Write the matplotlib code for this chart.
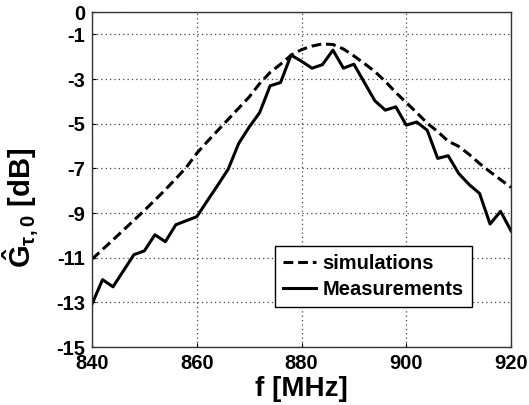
import matplotlib
matplotlib.use("Agg")
import matplotlib.pyplot as plt
import numpy as np

# frequency grid (MHz) and curves
freq_mhz = np.arange(840, 921, 2)

sim_db = [
    -11.06, -10.63, -10.20, -9.76, -9.32, -8.88, -8.42, -7.95, -7.46, -6.95,
    -6.32, -5.80, -5.30, -4.80, -4.30, -3.80, -3.20, -2.70, -2.33, -1.93,
    -1.68, -1.52, -1.42, -1.45, -1.65, -1.96, -2.30, -2.66, -3.10, -3.60,
    -4.05, -4.50, -4.97, -5.35, -5.78, -6.01, -6.37, -6.78, -7.15, -7.50,
    -7.85,
]

meas_db = [
    -13.07, -11.98, -12.30, -11.58, -10.86, -10.69, -9.97, -10.28, -9.52, -9.34,
    -9.16, -8.45, -7.75, -7.03, -5.88, -5.15, -4.50, -3.30, -3.15, -1.92,
    -2.20, -2.51, -2.35, -1.70, -2.51, -2.33, -3.15, -3.97, -4.39, -4.24,
    -5.06, -4.92, -5.29, -6.55, -6.43, -7.22, -7.72, -8.12, -9.49, -8.92,
    -9.79,
]

x_ticks = [840, 860, 880, 900, 920]
y_ticks = [0, -1, -3, -5, -7, -9, -11, -13, -15]

plt.rcParams["font.family"] = ["Liberation Sans", "DejaVu Sans"]
plt.rcParams["font.weight"] = "bold"
plt.rcParams["axes.unicode_minus"] = False
plt.rcParams["mathtext.fontset"] = "custom"
plt.rcParams["mathtext.rm"] = "Liberation Sans:bold"
plt.rcParams["mathtext.it"] = "Liberation Sans:bold"
plt.rcParams["mathtext.bf"] = "Liberation Sans:bold"
plt.rcParams["mathtext.default"] = "regular"

fig = plt.figure(figsize=(5.29, 4.05), dpi=100)
ax = fig.add_axes([0.174, 0.143, 0.792, 0.827])

ax.plot(freq_mhz, sim_db, color="black", linewidth=2.2,
        linestyle=(0, (3.2, 1.6)), label="simulations")
ax.plot(freq_mhz, meas_db, color="black", linewidth=2.2,
        label="Measurements")

ax.set_xlim(840, 920)
ax.set_ylim(-15, 0)
ax.set_xticks(x_ticks)
ax.set_yticks(y_ticks)
ax.tick_params(axis="both", labelsize=14.5, direction="in", length=3,
               pad=5, width=0.8)
for lab in ax.get_xticklabels() + ax.get_yticklabels():
    lab.set_fontweight("bold")

ax.grid(True, color="#444444", linestyle=(0, (1, 2.5)), linewidth=0.9)
for sp in ax.spines.values():
    sp.set_linewidth(1.0)
    sp.set_color("#333333")

ax.set_xlabel("f [MHz]", fontsize=20, fontweight="bold", labelpad=2)
ax.set_ylabel(r"$\hat{G}_{\tau,0}$ [dB]", fontsize=21, fontweight="bold")
ax.yaxis.set_label_coords(-0.125, 0.415)

leg = ax.legend(loc="lower left", bbox_to_anchor=(0.437, 0.1185),
                borderaxespad=0, fancybox=False, edgecolor="black",
                framealpha=1, handlelength=1.65, handletextpad=0.3,
                borderpad=0.4, labelspacing=0.35,
                prop={"size": 14.5, "weight": "bold"})
leg.get_frame().set_linewidth(1.0)

fig.savefig("out.png", dpi=100)
